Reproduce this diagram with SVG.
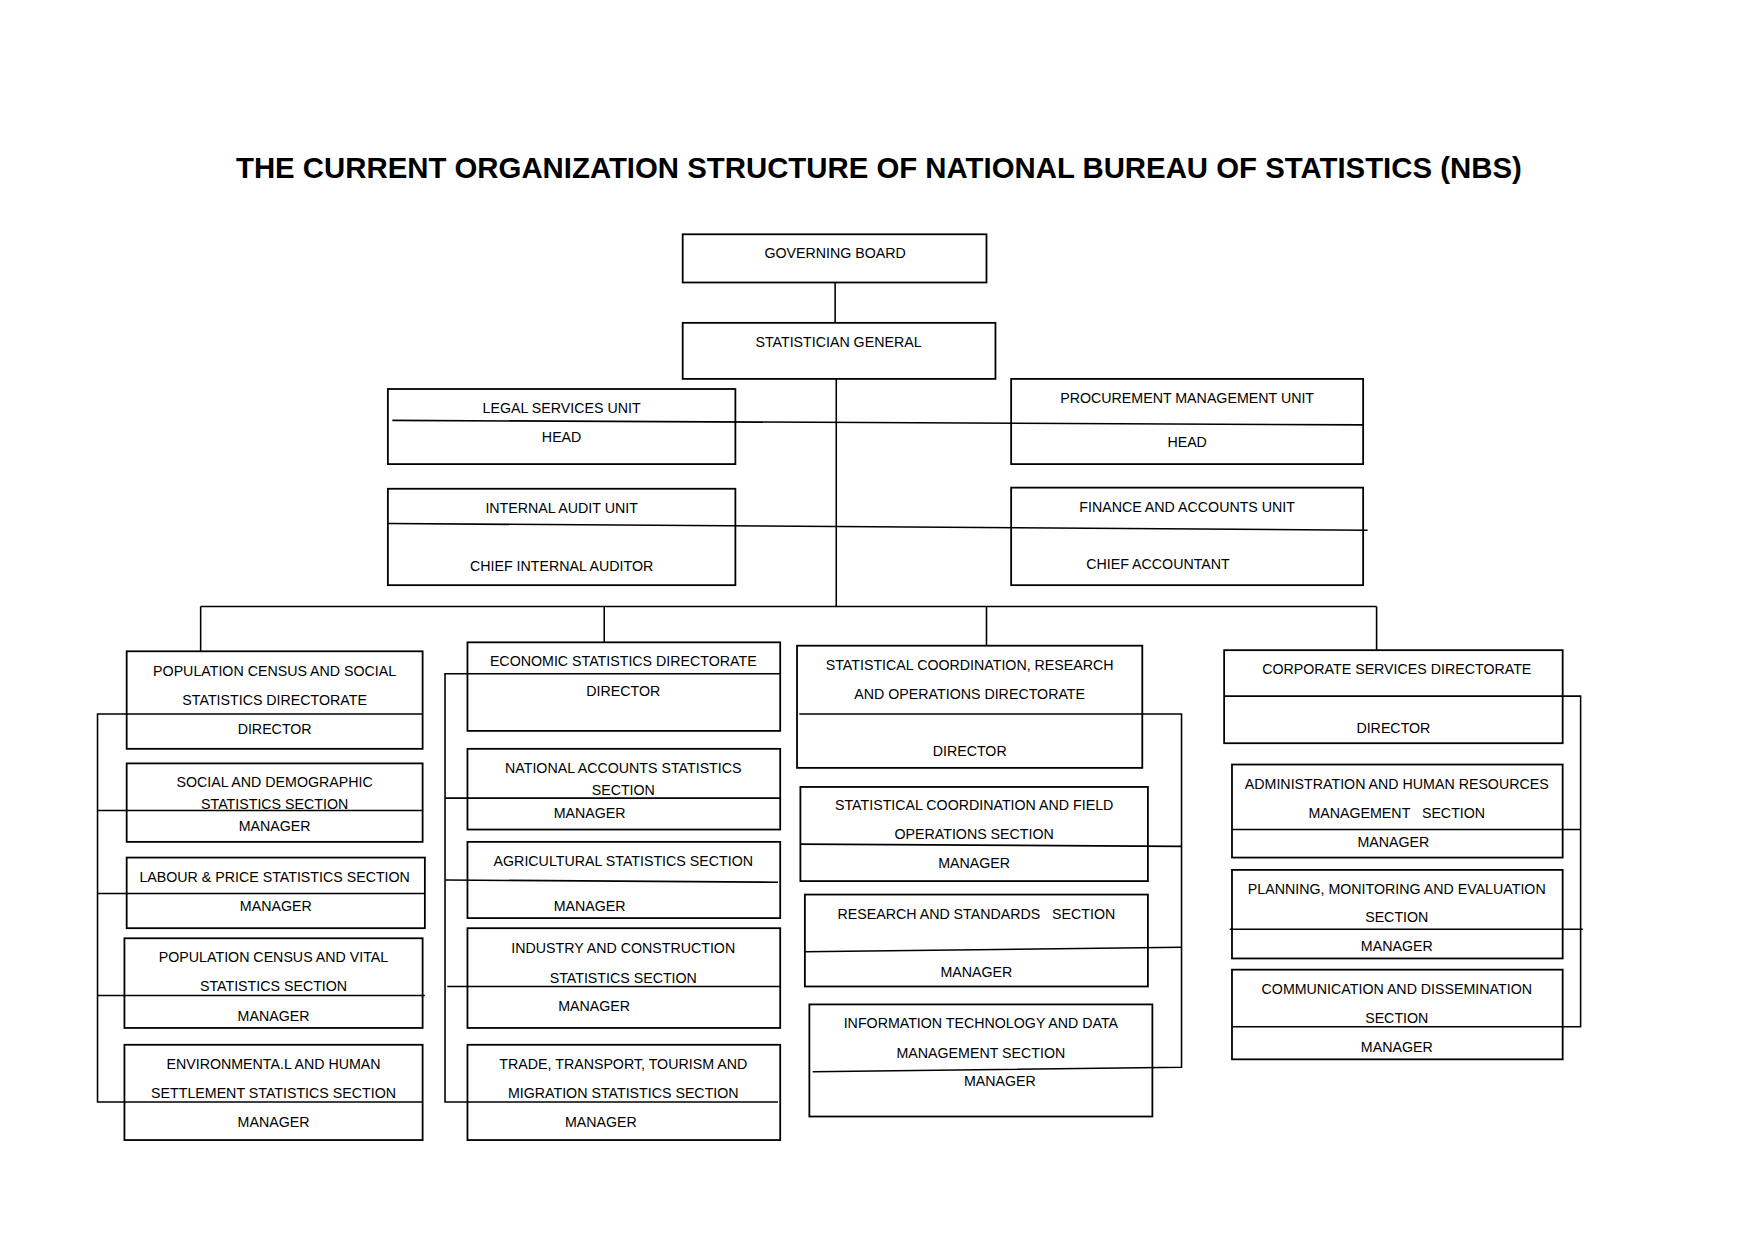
<svg xmlns="http://www.w3.org/2000/svg" width="1755" height="1241" viewBox="0 0 1755 1241">
<style>
rect{fill:none;stroke:#000;stroke-width:1.6}
line,polyline{stroke:#000;stroke-width:1.4;fill:none}
text{font-family:"Liberation Sans",Arial,sans-serif;font-size:12.7px;text-anchor:middle;dominant-baseline:central;fill:#000}
.t{font-family:"Liberation Sans",Arial,sans-serif;font-size:26.2px;font-weight:bold}
</style>
<rect x="0" y="0" width="1755" height="1241" fill="#fff" style="fill:#fff;stroke:none"/>
<g transform="scale(1.121,1.121)">
<text class="t" x="784" y="149">THE CURRENT ORGANIZATION STRUCTURE OF NATIONAL BUREAU OF STATISTICS (NBS)</text>
<g id="connectors">
<line x1="745" y1="252" x2="745" y2="288"/>
<line x1="746" y1="338" x2="746" y2="541"/>
<line x1="350" y1="375" x2="1216" y2="379"/>
<line x1="346" y1="467" x2="1220" y2="473"/>
<line x1="179" y1="541" x2="1228" y2="541"/>
<line x1="179" y1="541" x2="179" y2="581"/>
<line x1="539" y1="541" x2="539" y2="573"/>
<line x1="880" y1="541" x2="880" y2="576"/>
<line x1="1228" y1="541" x2="1228" y2="580"/>
<polyline points="377,637 87,637 87,983 377,983"/>
<line x1="87" y1="723" x2="377" y2="723"/>
<line x1="87" y1="797" x2="379" y2="797"/>
<line x1="87" y1="888" x2="379" y2="888"/>
<polyline points="696,601 397,601 397,983 694,983"/>
<line x1="397" y1="712" x2="696" y2="712"/>
<line x1="397" y1="785" x2="694" y2="787"/>
<line x1="399" y1="880" x2="696" y2="880"/>
<polyline points="713,637 1054,637 1054,952 725,956"/>
<line x1="714" y1="753" x2="1054" y2="755"/>
<line x1="718" y1="849" x2="1054" y2="845"/>
<polyline points="1092,621 1410,621 1410,916 1099,916"/>
<line x1="1099" y1="740" x2="1410" y2="740"/>
<line x1="1097" y1="829" x2="1412" y2="829"/>
</g>
<g id="gb"><rect x="609" y="209" width="271" height="43"/><text x="745" y="226">GOVERNING BOARD</text></g>
<g id="sg"><rect x="609" y="288" width="279" height="50"/><text x="748" y="305">STATISTICIAN GENERAL</text></g>
<g id="legal"><rect x="346" y="347" width="310" height="67"/><text x="501" y="364">LEGAL SERVICES UNIT</text><text x="501" y="390">HEAD</text></g>
<g id="proc"><rect x="902" y="338" width="314" height="76"/><text x="1059" y="355">PROCUREMENT MANAGEMENT UNIT</text><text x="1059" y="394">HEAD</text></g>
<g id="audit"><rect x="346" y="436" width="310" height="86"/><text x="501" y="453">INTERNAL AUDIT UNIT</text><text x="501" y="505">CHIEF INTERNAL AUDITOR</text></g>
<g id="finance"><rect x="902" y="435" width="314" height="87"/><text x="1059" y="452">FINANCE AND ACCOUNTS UNIT</text><text x="1033" y="503">CHIEF ACCOUNTANT</text></g>

<g id="pcss"><rect x="113" y="581" width="264" height="87"/><text x="245" y="599">POPULATION CENSUS AND SOCIAL</text><text x="245" y="624">STATISTICS DIRECTORATE</text><text x="245" y="650">DIRECTOR</text></g>
<g id="social"><rect x="113" y="681" width="264" height="70"/><text x="245" y="698">SOCIAL AND DEMOGRAPHIC</text><text x="245" y="717">STATISTICS SECTION</text><text x="245" y="737">MANAGER</text></g>
<g id="labour"><rect x="113" y="765" width="266" height="63"/><text x="245" y="782">LABOUR &amp; PRICE STATISTICS SECTION</text><text x="246" y="808">MANAGER</text></g>
<g id="pcv"><rect x="111" y="837" width="266" height="80"/><text x="244" y="854">POPULATION CENSUS AND VITAL</text><text x="244" y="880">STATISTICS SECTION</text><text x="244" y="906">MANAGER</text></g>
<g id="env"><rect x="111" y="932" width="266" height="85"/><text x="244" y="949">ENVIRONMENTA.L AND HUMAN</text><text x="244" y="975">SETTLEMENT STATISTICS SECTION</text><text x="244" y="1001">MANAGER</text></g>

<g id="econ"><rect x="417" y="573" width="279" height="79"/><text x="556" y="590">ECONOMIC STATISTICS DIRECTORATE</text><text x="556" y="616">DIRECTOR</text></g>
<g id="nas"><rect x="417" y="668" width="279" height="72"/><text x="556" y="685">NATIONAL ACCOUNTS STATISTICS</text><text x="556" y="705">SECTION</text><text x="526" y="725">MANAGER</text></g>
<g id="agri"><rect x="417" y="751" width="279" height="68"/><text x="556" y="768">AGRICULTURAL STATISTICS SECTION</text><text x="526" y="808">MANAGER</text></g>
<g id="ind"><rect x="417" y="828" width="279" height="89"/><text x="556" y="846">INDUSTRY AND CONSTRUCTION</text><text x="556" y="872">STATISTICS SECTION</text><text x="530" y="897">MANAGER</text></g>
<g id="trade"><rect x="417" y="932" width="279" height="85"/><text x="556" y="949">TRADE, TRANSPORT, TOURISM AND</text><text x="556" y="975">MIGRATION STATISTICS SECTION</text><text x="536" y="1001">MANAGER</text></g>

<g id="scro"><rect x="711" y="576" width="308" height="109"/><text x="865" y="593">STATISTICAL COORDINATION, RESEARCH</text><text x="865" y="619">AND OPERATIONS DIRECTORATE</text><text x="865" y="670">DIRECTOR</text></g>
<g id="scf"><rect x="714" y="702" width="310" height="84"/><text x="869" y="718">STATISTICAL COORDINATION AND FIELD</text><text x="869" y="744">OPERATIONS SECTION</text><text x="869" y="770">MANAGER</text></g>
<g id="rs"><rect x="718" y="798" width="306" height="82"/><text x="871" y="815" xml:space="preserve">RESEARCH AND STANDARDS   SECTION</text><text x="871" y="867">MANAGER</text></g>
<g id="it"><rect x="722" y="896" width="306" height="100"/><text x="875" y="913">INFORMATION TECHNOLOGY AND DATA</text><text x="875" y="939">MANAGEMENT SECTION</text><text x="892" y="964">MANAGER</text></g>

<g id="corp"><rect x="1092" y="580" width="302" height="83"/><text x="1246" y="597">CORPORATE SERVICES DIRECTORATE</text><text x="1243" y="649">DIRECTOR</text></g>
<g id="admin"><rect x="1099" y="682" width="295" height="83"/><text x="1246" y="699">ADMINISTRATION AND HUMAN RESOURCES</text><text x="1246" y="725" xml:space="preserve">MANAGEMENT   SECTION</text><text x="1243" y="751">MANAGER</text></g>
<g id="pme"><rect x="1099" y="776" width="295" height="79"/><text x="1246" y="793">PLANNING, MONITORING AND EVALUATION</text><text x="1246" y="818">SECTION</text><text x="1246" y="844">MANAGER</text></g>
<g id="comm"><rect x="1099" y="865" width="295" height="80"/><text x="1246" y="882">COMMUNICATION AND DISSEMINATION</text><text x="1246" y="908">SECTION</text><text x="1246" y="934">MANAGER</text></g>
</g>
</svg>
